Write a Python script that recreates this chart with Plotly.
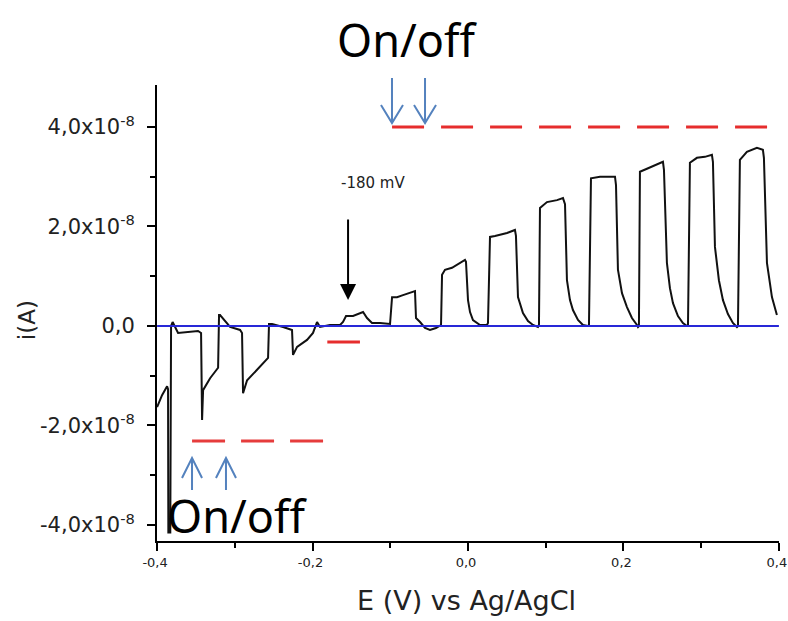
import plotly.graph_objects as go

# ---------------- data ----------------
# Potential (V vs Ag/AgCl)
E_values = [
    -0.4000, -0.3936, -0.3871, -0.3859, -0.3855, -0.3830, -0.3820, -0.3800,
    -0.3730, -0.3576, -0.3473, -0.3434, -0.3421, -0.3408, -0.3318, -0.3215,
    -0.3203, -0.3190, -0.3100, -0.3061, -0.2932, -0.2907, -0.2894, -0.2842,
    -0.2714, -0.2572, -0.2560, -0.2521, -0.2379, -0.2264, -0.2251, -0.2199,
    -0.2071, -0.1994, -0.1942, -0.1904, -0.1775, -0.1646, -0.1608, -0.1569,
    -0.1479, -0.1350, -0.1299, -0.1235, -0.1132, -0.1003,
    -0.0977, -0.0913, -0.0836, -0.0759, -0.0682, -0.0669, -0.0617, -0.0553,
    -0.0489, -0.0412, -0.0360,
    -0.0347, -0.0334, -0.0296, -0.0206, -0.0103, -0.0039, -0.0026, 0.0000,
    0.0026, 0.0064, 0.0154, 0.0244,
    0.0257, 0.0283, 0.0347, 0.0502, 0.0604, 0.0617, 0.0643, 0.0707, 0.0772,
    0.0836, 0.0900,
    0.0913, 0.0926, 0.1016, 0.1145, 0.1222, 0.1248, 0.1273, 0.1312, 0.1350,
    0.1415, 0.1479, 0.1543,
    0.1556, 0.1582, 0.1698, 0.1891, 0.1904, 0.1929, 0.1981, 0.2045, 0.2109,
    0.2174, 0.2187,
    0.2199, 0.2212, 0.2302, 0.2431, 0.2508, 0.2521, 0.2559, 0.2598, 0.2637,
    0.2701, 0.2765, 0.2817,
    0.2830, 0.2855, 0.2945, 0.3048, 0.3138, 0.3151, 0.3177, 0.3228, 0.3280,
    0.3344, 0.3408, 0.3460,
    0.3473, 0.3498, 0.3588, 0.3717, 0.3794, 0.3807, 0.3846, 0.3884, 0.3910,
    0.3949, 0.3974,
]
# Current in units of 1e-8 A
I_values_e8 = [
    -1.63, -1.39, -1.21, -1.27, -4.15, -4.15, 0.00, 0.08,
    -0.14, -0.12, -0.10, -0.14, -1.89, -1.29, -1.05, -0.84,
    0.22, 0.22, 0.06, -0.02, -0.08, -0.14, -1.35, -1.09,
    -0.88, -0.64, 0.04, 0.04, -0.02, -0.08, -0.58, -0.42,
    -0.28, -0.14, 0.08, -0.02, 0.02, 0.02, 0.08, 0.20,
    0.20, 0.28, 0.16, 0.06, 0.06, 0.04,
    0.58, 0.58, 0.62, 0.66, 0.70, 0.16, 0.08, -0.04,
    -0.08, -0.04, 0.02,
    0.02, 1.03, 1.13, 1.17, 1.27, 1.33, 1.29, 0.52,
    0.28, 0.12, 0.02, 0.02,
    0.06, 1.79, 1.81, 1.87, 1.93, 1.81, 0.58, 0.26, 0.10,
    0.02, -0.02,
    0.02, 2.37, 2.49, 2.53, 2.57, 2.45, 0.92, 0.52, 0.32,
    0.12, 0.02, 0.00,
    0.00, 2.97, 3.00, 3.00, 2.83, 1.13, 0.66, 0.38, 0.16,
    0.02, -0.02,
    0.00, 3.10, 3.16, 3.24, 3.30, 3.14, 1.27, 0.76, 0.46,
    0.20, 0.06, 0.00,
    0.00, 3.28, 3.38, 3.40, 3.44, 3.30, 1.59, 0.92, 0.52,
    0.24, 0.06, -0.02,
    0.00, 3.34, 3.50, 3.58, 3.54, 3.38, 1.27, 0.86, 0.58,
    0.36, 0.22,
]
I_values = [v * 1e-8 for v in I_values_e8]

# zero baseline (blue)
baseline_E = [-0.4, 0.4]
baseline_I = [0.0, 0.0]

# red reference levels
top_level_E = [-0.0977, 0.386]
top_level_I = [4.0e-8, 4.0e-8]
bottom_level_E = [-0.355, -0.184]
bottom_level_I = [-2.31e-8, -2.31e-8]
mid_level_E = [-0.181, -0.139]
mid_level_I = [-0.32e-8, -0.32e-8]

# arrow at -180 mV
marker_E = -0.1543
marker_tip_I = 0.52e-8
marker_tail_I = 2.17e-8

# ticks
x_tickvals = [-0.4, -0.2, 0.0, 0.2, 0.4]
x_ticktext = ["-0,4", "-0,2", "0,0", "0,2", "0,4"]
x_minor = [-0.3, -0.1, 0.1, 0.3]
y_tickvals = [-4e-8, -2e-8, 0.0, 2e-8, 4e-8]
y_ticktext = ["-4,0x10<sup>-8</sup>", "-2,0x10<sup>-8</sup>", "0,0",
              "2,0x10<sup>-8</sup>", "4,0x10<sup>-8</sup>"]
y_minor = [-3e-8, -1e-8, 1e-8, 3e-8]

# ---------------- figure ----------------
fig = go.Figure()

fig.add_trace(go.Scatter(x=E_values, y=I_values, mode="lines",
                         line=dict(color="#111111", width=2), hoverinfo="skip"))
fig.add_trace(go.Scatter(x=baseline_E, y=baseline_I, mode="lines",
                         line=dict(color="rgb(40,40,215)", width=2), hoverinfo="skip"))
fig.add_trace(go.Scatter(x=top_level_E, y=top_level_I, mode="lines",
                         line=dict(color="rgb(230,45,45)", width=3, dash="32px,17px")))
fig.add_trace(go.Scatter(x=bottom_level_E, y=bottom_level_I, mode="lines",
                         line=dict(color="rgb(230,60,60)", width=3, dash="33px,16px")))
fig.add_trace(go.Scatter(x=mid_level_E, y=mid_level_I, mode="lines",
                         line=dict(color="rgb(230,45,45)", width=3)))

axis_font = dict(family="DejaVu Sans", color="#222222")

fig.update_layout(
    width=788, height=621,
    margin=dict(l=157, r=9, t=85, b=80),
    paper_bgcolor="white", plot_bgcolor="white",
    showlegend=False,
    xaxis=dict(
        range=[-0.4001, 0.4001], showgrid=False, zeroline=False, automargin=False,
        showline=True, linecolor="black", linewidth=2, mirror=False,
        tickmode="array", tickvals=x_tickvals, ticktext=x_ticktext,
        ticks="outside", ticklen=8, tickwidth=2, tickcolor="black",
        tickfont=dict(size=13, **axis_font), ticklabeloverflow="allow",
        ticklabelshift=-2,
        minor=dict(tickmode="array", tickvals=x_minor, ticks="outside",
                   ticklen=5, tickwidth=2, tickcolor="black"),
    ),
    yaxis=dict(
        range=[-4.322e-8, 4.844e-8], showgrid=False, zeroline=False, automargin=False,
        showline=True, linecolor="black", linewidth=2, mirror=False,
        tickmode="array", tickvals=y_tickvals, ticktext=y_ticktext,
        ticks="outside", ticklen=8, tickwidth=2, tickcolor="black",
        tickfont=dict(size=21, **axis_font), ticklabelstandoff=8,
        minor=dict(tickmode="array", tickvals=y_minor, ticks="outside",
                   ticklen=5, tickwidth=2, tickcolor="black"),
    ),
)

annotations = [
    dict(text="E (V) vs Ag/AgCl", xref="paper", yref="paper", x=0.498, y=-0.13,
         xanchor="center", yanchor="middle", showarrow=False,
         font=dict(family="DejaVu Sans", size=27, color="#222222")),
    dict(text="i(A)", xref="paper", yref="paper", x=-0.21, y=0.485,
         xanchor="center", yanchor="middle", showarrow=False, textangle=-90,
         font=dict(family="DejaVu Sans", size=23, color="#222222")),
    dict(text="On/off", xref="paper", yref="paper", x=0.402, y=1.10,
         xanchor="center", yanchor="middle", showarrow=False,
         font=dict(family="Noto Sans", size=45, color="black")),
    dict(text="On/off", xref="paper", yref="paper", x=0.1286, y=0.055,
         xanchor="center", yanchor="middle", showarrow=False,
         font=dict(family="Noto Sans", size=45, color="black")),
    dict(text="-180 mV", xref="paper", yref="paper", x=0.347, y=0.785,
         xanchor="center", yanchor="middle", showarrow=False,
         font=dict(family="DejaVu Sans", size=15, color="#222222")),
    dict(text="", x=marker_E, y=marker_tip_I, xref="x", yref="y",
         ax=marker_E, ay=marker_tail_I, axref="x", ayref="y",
         showarrow=True, arrowhead=2, arrowsize=1.6, arrowwidth=2,
         arrowcolor="black"),
]
fig.update_layout(annotations=annotations)

# open blue arrows (paper coordinates)
arrow_color = "rgb(84,130,190)"
def arrow_path(x, y_tail, y_tip, dx, y_arm):
    return (f"M {x},{y_tail} L {x},{y_tip} "
            f"M {x-dx},{y_arm} L {x},{y_tip} L {x+dx},{y_arm}")

for xp in [0.3778, 0.4309]:
    fig.add_shape(type="path", xref="paper", yref="paper",
                  path=arrow_path(xp, 1.0154, 0.9167, 0.0177, 0.9561),
                  line=dict(color=arrow_color, width=2))
for xp in [0.0563, 0.1109]:
    fig.add_shape(type="path", xref="paper", yref="paper",
                  path=arrow_path(xp, 0.1118, 0.1820, 0.0161, 0.1382),
                  line=dict(color=arrow_color, width=2))

# remove the default page margin so the 788x621 figure fills the window exactly
fig.write_html("out.html",
               config={"displayModeBar": False},
               post_script="document.body.style.margin='0px';"
                           "document.body.style.overflow='hidden';")
